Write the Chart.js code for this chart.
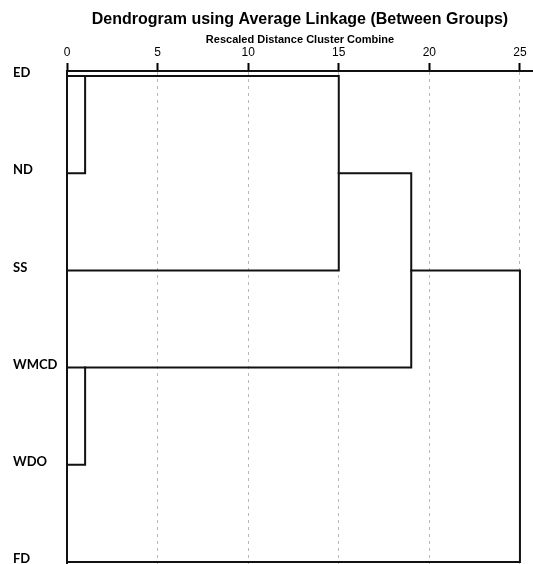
<!DOCTYPE html>
<html>
<head>
<meta charset="utf-8">
<style>
  html, body { margin: 0; padding: 0; background: #fff; }
  canvas { display: block; }
</style>
<script src="https://cdn.jsdelivr.net/npm/chart.js@4/dist/chart.umd.min.js"></script>
</head>
<body>
<canvas id="c" width="533" height="564"></canvas>
<script>
// ---- data ----
const leaves = ['ED', 'ND', 'SS', 'WMCD', 'WDO', 'FD'];
// merge steps: cluster ids 0..5 are leaves, 6.. are merged clusters (in order of merging)
const mergeLeft   = [0, 3, 6, 8, 9];
const mergeRight  = [1, 4, 2, 7, 5];
const mergeHeight = [1, 1, 15, 19, 25];
const tickValues  = [0, 5, 10, 15, 20, 25];

// ---- build dendrogram paths from merges ----
const clusterRow = leaves.map((_, i) => i);
const clusterHeight = leaves.map(() => 0);
const datasets = [];
for (let k = 0; k < mergeHeight.length; k++) {
  const a = mergeLeft[k], b = mergeRight[k], h = mergeHeight[k];
  const ya = clusterRow[a], yb = clusterRow[b];
  datasets.push({
    data: [
      { x: clusterHeight[a], y: ya },
      { x: h, y: ya },
      { x: h, y: yb },
      { x: clusterHeight[b], y: yb }
    ],
    showLine: true,
    borderColor: '#111',
    borderWidth: 2,
    pointRadius: 0,
    fill: false,
    tension: 0,
    borderJoinStyle: 'miter',
    borderCapStyle: 'square'
  });
  clusterRow.push(Math.floor((ya + yb) / 2));
  clusterHeight.push(h);
}

new Chart(document.getElementById('c'), {
  type: 'scatter',
  data: { datasets },
  options: {
    responsive: false,
    animation: false,
    devicePixelRatio: 1,
    layout: { padding: { left: 13, right: 0, top: 0, bottom: 0 } },
    plugins: {
      legend: { display: false },
      tooltip: { enabled: false },
      title: {
        display: true,
        text: 'Dendrogram using Average Linkage (Between Groups)',
        fullSize: false,
        color: '#000',
        font: { family: 'Liberation Sans', size: 16, weight: 'bold', lineHeight: 1.25 },
        padding: { top: 10, bottom: 3 }
      },
      subtitle: {
        display: true,
        text: 'Rescaled Distance Cluster Combine',
        fullSize: false,
        color: '#000',
        font: { family: 'Liberation Sans', size: 11, weight: 'bold', lineHeight: 1.0 },
        padding: { top: 1, bottom: 0 }
      }
    },
    scales: {
      x: {
        type: 'linear',
        position: 'top',
        min: 0,
        max: 25.72,
        afterBuildTicks: s => { s.ticks = tickValues.map(v => ({ value: v })); },
        afterFit: s => { s.height = 26; s.paddingLeft = 0; s.paddingRight = 0; },
        ticks: {
          color: '#000',
          padding: 3,
          maxRotation: 0,
          font: { family: 'Liberation Sans', size: 12 }
        },
        grid: {
          color: c => (c.tick && c.tick.value === 0) ? 'rgba(0,0,0,0)' : '#b8b8b8',
          lineWidth: 1,
          tickColor: '#000',
          tickLength: 8,
          tickWidth: 2
        },
        border: { display: true, color: '#111', width: 2, dash: [3, 4] }
      },
      y: {
        type: 'linear',
        reverse: true,
        min: -0.0514,
        max: 5.0206,
        afterBuildTicks: s => { s.ticks = leaves.map((_, i) => ({ value: i })); },
        afterFit: s => { s.width = 54; s.paddingTop = 0; s.paddingBottom = 0; },
        ticks: {
          color: '#000',
          crossAlign: 'far',
          padding: 0,
          labelOffset: -3,
          font: { family: 'Lato', size: 13, weight: 'bold' },
          callback: v => leaves[v]
        },
        grid: { display: false, drawTicks: false },
        border: { display: true, color: '#111', width: 2 }
      }
    }
  }
});
</script>
</body>
</html>
